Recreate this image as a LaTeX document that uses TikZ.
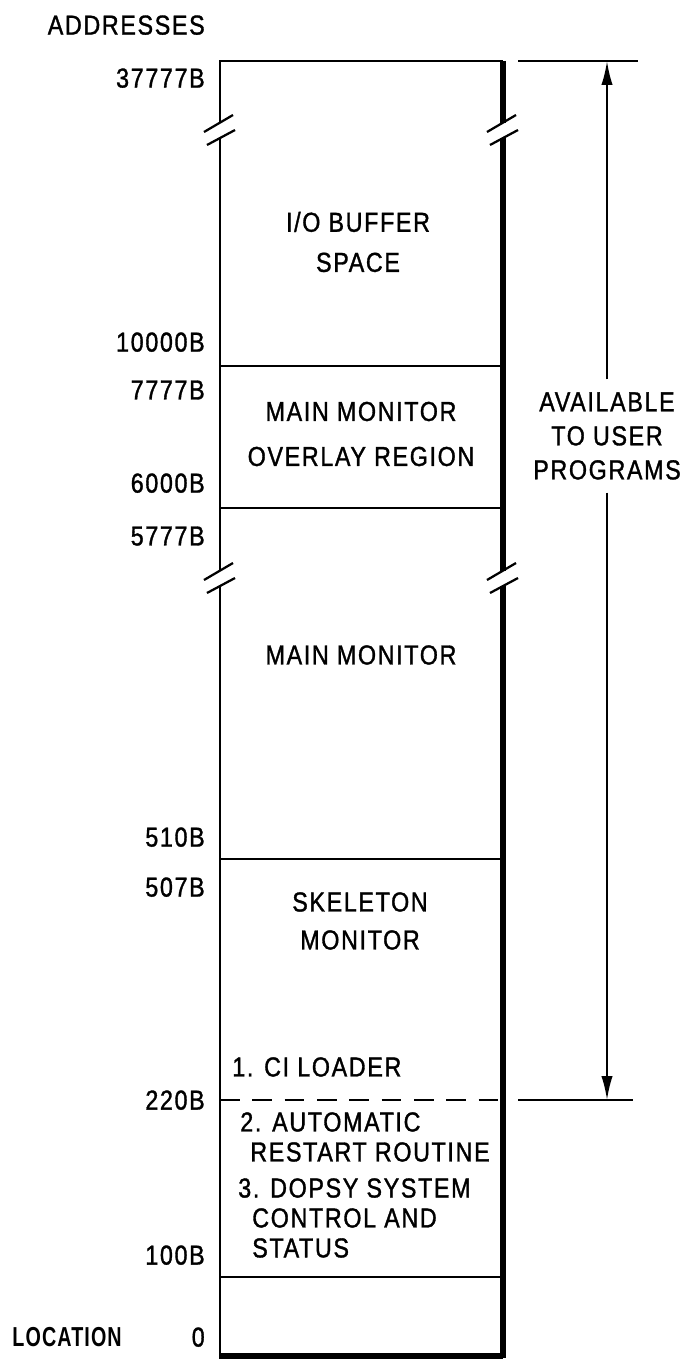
\documentclass[tikz,border=0pt]{standalone}
\usepackage{fontspec}
\setmainfont{Liberation Sans}[FakeStretch=0.85,LetterSpace=6,FakeBold=1.2]
\newfontfamily\locfont{Liberation Sans}[FakeStretch=0.72,LetterSpace=4]
\usetikzlibrary{arrows.meta}

\begin{document}
\begin{tikzpicture}[
  x=0.025cm, y=-0.025cm,
  font=\fontsize{19.5}{23}\selectfont,
  >={Latex[length=17pt,width=8pt]},
  addr/.style={anchor=east, inner sep=0pt, text depth=0pt},
  memtext/.style={align=center, inner sep=0pt},
  listtext/.style={anchor=west, align=left, inner sep=0pt},
  thinline/.style={line width=1.4pt},
  thickline/.style={line width=3.6pt},
  brkline/.style={line width=1.6pt},
]
\useasboundingbox (0,0) rectangle (694,1367);
\def\xl{220}
\def\xr{503}
\def\ytop{61}
\def\ybot{1356}
\def\bka{130}
\def\bkb{578}
% --- memory column with breaks ---
\draw[thinline] (\xl,\bka-7) -- (\xl,\ytop) -- (\xr,\ytop);
\draw[thinline] (\xl,\bka+8) -- (\xl,\bkb-7);
\draw[thinline] (\xl,\bkb+8) -- (\xl,\ybot);
\draw[thickline] (\xr,\ytop) -- (\xr,\bka-7);
\draw[thickline] (\xr,\bka+8) -- (\xr,\bkb-7);
\draw[thickline] (\xr,\bkb+8) -- (\xr,\ybot+1.5);
\draw[thickline] (\xl-0.7,\ybot) -- (\xr,\ybot);
\foreach \bx in {\xl,\xr} {
  \foreach \by in {\bka,\bkb} {
    \draw[brkline] (\bx-16,\by+2) -- (\bx+13,\by-15);
    \draw[brkline] (\bx-13,\by+15) -- (\bx+15,\by);
  }
}
% region boundaries
\foreach \y in {366,508,859,1277} {
  \draw[thinline] (\xl,\y) -- (\xr,\y);
}
\draw[thinline, dash pattern=on 14pt off 9pt] (\xl,1100) -- (\xr,1100);
% --- region texts ---
\node[memtext, font=\fontsize{19.5}{28.5}\selectfont] (iobuf) at (358,242) {I/O BUFFER\\SPACE};
\node[memtext, font=\fontsize{19.5}{32}\selectfont] (overlay) at (361,434) {MAIN MONITOR\\OVERLAY REGION};
\node[memtext] (mainmon) at (361,655) {MAIN MONITOR};
\node[memtext, font=\fontsize{19.5}{27}\selectfont] (skel) at (360,921) {SKELETON\\MONITOR};
\node[listtext] (item1) at (232,1067) {1. CI LOADER};
\node[listtext, font=\fontsize{19.5}{21.3}\selectfont] (item2) at (240,1137)
  {2. AUTOMATIC\\\hspace*{0.25cm}RESTART ROUTINE};
\node[listtext, font=\fontsize{19.5}{21.3}\selectfont] (item3) at (238,1218)
  {3. DOPSY SYSTEM\\\hspace*{0.35cm}CONTROL AND\\\hspace*{0.35cm}STATUS};
% --- addresses ---
\node[addr] (addrhead) at (205,25) {ADDRESSES};
\node[addr] (a37777) at (205,78) {37777B};
\node[addr] (a10000) at (205,342) {10000B};
\node[addr] (a7777) at (205,390) {7777B};
\node[addr] (a6000) at (205,483) {6000B};
\node[addr] (a5777) at (205,536) {5777B};
\node[addr] (a510) at (205,837) {510B};
\node[addr] (a507) at (205,887) {507B};
\node[addr] (a220) at (205,1100) {220B};
\node[addr] (a100) at (205,1255) {100B};
\node[addr] (a0) at (205,1337) {0};
\node[addr, font=\locfont\fontsize{19.5}{23}\selectfont\bfseries] (loc) at (122,1337) {LOCATION};
% --- user program span ---
\coordinate (toplft) at (518,\ytop);
\coordinate (toprgt) at (638,\ytop);
\coordinate (botlft) at (518,1100);
\coordinate (botrgt) at (633,1100);
\coordinate (usertop) at (607,\ytop);
\coordinate (userbot) at (607,1100);
\draw[thinline] (toplft) -- (toprgt);
\draw[thinline] (botlft) -- (botrgt);
\node[memtext, inner ysep=9pt, font=\fontsize{19.5}{24.2}\selectfont] (avail) at (607,436)
  {AVAILABLE\\TO USER\\PROGRAMS};
\draw[thinline, ->] (avail.north) -- (usertop);
\draw[thinline, ->] (avail.south) -- (userbot);
\end{tikzpicture}
\end{document}
